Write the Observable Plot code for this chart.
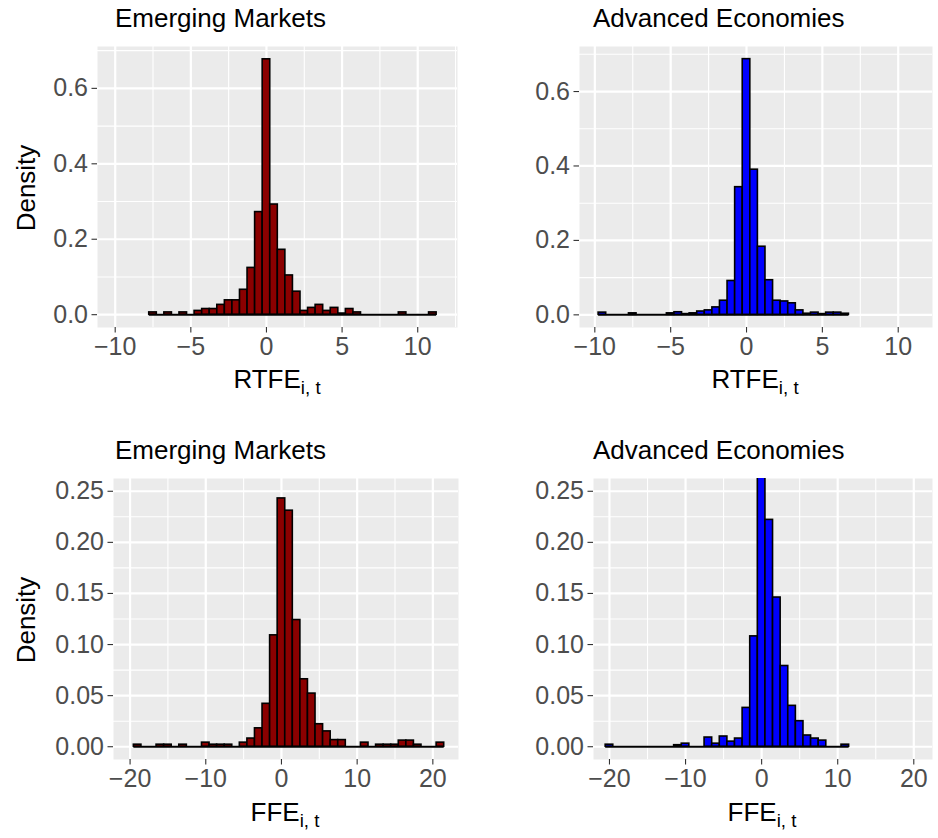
<!DOCTYPE html>
<html><head><meta charset="utf-8">
<script src="https://cdn.jsdelivr.net/npm/d3@7"></script>
<script src="https://cdn.jsdelivr.net/npm/@observablehq/plot@0.6"></script>
<style>
body{margin:0;background:#fff;font-family:"Liberation Sans",Arial,Helvetica,sans-serif}
#root{position:relative;width:938px;height:838px;overflow:hidden;background:#fff}
.box{position:absolute}
.t{position:absolute;white-space:nowrap;color:#000;line-height:1}
.ttl{font-size:26px}
.axt{font-size:26px}
.axt sub{font-size:0.72em;vertical-align:baseline;position:relative;top:0.32em}
</style></head><body><div id="root"></div>
<script>
// ---- data (densities) ----
const emRtfeStart = -7.75, emRtfeWidth = 0.5;
const emRtfeDensity = [0.006,0,0.006,0,0.006,0,0.01,0.015,0.015,0.026,0.038,0.038,0.066,0.124,0.272,0.677,0.292,0.172,0.104,0.061,0.01,0.018,0.026,0.01,0.018,0.003,0.015,0.006,0,0,0,0,0,0.006,0,0,0,0.006];

const aeRtfeStart = -9.75, aeRtfeWidth = 0.5;
const aeRtfeDensity = [0.006,0,0,0,0.004,0,0,0,0,0.004,0.007,0.002,0.004,0.009,0.012,0.02,0.038,0.091,0.343,0.687,0.39,0.183,0.093,0.038,0.036,0.031,0.012,0.003,0.006,0.002,0.006,0.006,0.003];

const emFfeStart = -19.5, emFfeWidth = 1;
const emFfeDensity = [0.002,0,0,0.002,0.002,0,0.002,0,0,0.004,0.002,0.002,0.002,0,0.004,0.008,0.018,0.042,0.109,0.243,0.231,0.124,0.066,0.052,0.022,0.015,0.0065,0.0065,0,0,0.004,0,0.002,0.002,0.002,0.006,0.006,0.002,0,0,0.004];

const aeFfeStart = -20.5, aeFfeWidth = 1;
const aeFfeDensity = [0.002,0,0,0,0,0,0,0,0,0.0015,0.003,0,0,0.009,0.003,0.01,0.005,0.008,0.038,0.108,0.30,0.222,0.146,0.079,0.04,0.025,0.011,0.008,0.006,0,0,0.002];

const rtfeXTicks = [-10,-5,0,5,10];
const rtfeXMinor = [-12.5,-7.5,-2.5,2.5,7.5,12.5];
const rtfeYTicks = [0,0.2,0.4,0.6];
const rtfeYMinor = [0.1,0.3,0.5,0.7];
const ffeXTicks = [-20,-10,0,10,20];
const ffeXMinor = [-25,-15,-5,5,15,25];
const ffeYTicks = [0,0.05,0.10,0.15,0.20,0.25];
const ffeYMinor = [0.025,0.075,0.125,0.175,0.225,0.275];

const titles = ["Emerging Markets","Advanced Economies"];
const darkred = "#8B0000", blue = "#0000FF";

// ---- drawing ----
const FONT = '"Liberation Sans", Arial, Helvetica, sans-serif';
const minusFmt = d => (d < 0 ? "\u2212" + Math.abs(d) : String(d));
const within = (arr, dom) => arr.filter(v => v >= dom[0] && v <= dom[1]);

function histPanel(o) {
  const bins = o.dens.map((d, i) => ({x1: o.start + i * o.width, x2: o.start + (i + 1) * o.width, y: d}));
  const end = o.start + o.dens.length * o.width;
  return Plot.plot({
    width: o.W, height: o.H,
    marginLeft: o.ml, marginRight: o.mr, marginTop: o.mt, marginBottom: o.mb,
    style: {fontFamily: FONT, fontSize: "25px", color: "#4D4D4D", background: "transparent", overflow: "visible"},
    x: {domain: o.xDomain},
    y: {domain: o.yDomain},
    marks: [
      Plot.frame({fill: "#EBEBEB", stroke: "none"}),
      Plot.ruleX(within(o.xMinor, o.xDomain), {stroke: "#fff", strokeWidth: 1.1, strokeOpacity: 1}),
      Plot.ruleY(within(o.yMinor, o.yDomain), {stroke: "#fff", strokeWidth: 1.1, strokeOpacity: 1}),
      Plot.ruleX(o.xTicks, {stroke: "#fff", strokeWidth: 2.2, strokeOpacity: 1}),
      Plot.ruleY(o.yTicks, {stroke: "#fff", strokeWidth: 2.2, strokeOpacity: 1}),
      Plot.ruleY([0], {x1: o.start, x2: end, stroke: "#000", strokeWidth: 2}),
      Plot.rect(bins.filter(b => b.y > 0), {x1: "x1", x2: "x2", y1: 0, y2: "y", fill: o.fill, stroke: "#000", strokeWidth: 1.6, inset: 0, clip: true}),
      Plot.axisX(o.xTicks, {tickSize: 5.5, tickPadding: 4, stroke: "#333333", strokeWidth: 1.1, fill: "#4D4D4D", fontSize: 25, tickFormat: minusFmt, label: null}),
      Plot.axisY(o.yTicks, {tickSize: 5.5, tickPadding: 4, stroke: "#333333", strokeWidth: 1.1, fill: "#4D4D4D", fontSize: 25, tickFormat: o.yFmt, label: null})
    ]
  });
}

const root = document.getElementById("root");
function place(node, left, top) {
  const d = document.createElement("div");
  d.className = "box";
  d.style.left = left + "px"; d.style.top = top + "px";
  d.appendChild(node); root.appendChild(d);
}
function text(html, cls, style) {
  const d = document.createElement("div");
  d.className = "t " + cls;
  d.innerHTML = html;
  Object.assign(d.style, style);
  root.appendChild(d);
}

const fmt1 = d => d.toFixed(1), fmt2 = d => d.toFixed(2);

place(histPanel({start: emRtfeStart, width: emRtfeWidth, dens: emRtfeDensity, fill: darkred,
  W: 469, H: 419, ml: 97, mr: 12, mt: 46, mb: 92,
  xDomain: [-11.17, 12.63], yDomain: [-0.034, 0.711],
  xTicks: rtfeXTicks, xMinor: rtfeXMinor, yTicks: rtfeYTicks, yMinor: rtfeYMinor, yFmt: fmt1}), 0, 0);
place(histPanel({start: aeRtfeStart, width: aeRtfeWidth, dens: aeRtfeDensity, fill: blue,
  W: 469, H: 419, ml: 110, mr: 6, mt: 46, mb: 92,
  xDomain: [-11.01, 12.26], yDomain: [-0.034, 0.721],
  xTicks: rtfeXTicks, xMinor: rtfeXMinor, yTicks: rtfeYTicks, yMinor: rtfeYMinor, yFmt: fmt1}), 469, 0);
place(histPanel({start: emFfeStart, width: emFfeWidth, dens: emFfeDensity, fill: darkred,
  W: 469, H: 419, ml: 113, mr: 11, mt: 59, mb: 79,
  xDomain: [-22.19, 23.39], yDomain: [-0.0125, 0.2625],
  xTicks: ffeXTicks, xMinor: ffeXMinor, yTicks: ffeYTicks, yMinor: ffeYMinor, yFmt: fmt2}), 0, 419);
place(histPanel({start: aeFfeStart, width: aeFfeWidth, dens: aeFfeDensity, fill: blue,
  W: 469, H: 419, ml: 124, mr: 6, mt: 59, mb: 79,
  xDomain: [-22.1, 22.46], yDomain: [-0.0125, 0.2625],
  xTicks: ffeXTicks, xMinor: ffeXMinor, yTicks: ffeYTicks, yMinor: ffeYMinor, yFmt: fmt2}), 469, 419);

// titles
text(titles[0], "ttl", {left: "115px", top: "5px"});
text(titles[1], "ttl", {left: "593px", top: "5px"});
text(titles[0], "ttl", {left: "115px", top: "437px"});
text(titles[1], "ttl", {left: "593px", top: "437px"});
// x axis titles
text("RTFE<sub>i, t</sub>", "axt", {left: "277px", top: "366px", transform: "translateX(-50%)"});
text("RTFE<sub>i, t</sub>", "axt", {left: "755px", top: "366px", transform: "translateX(-50%)"});
text("FFE<sub>i, t</sub>", "axt", {left: "285px", top: "799px", transform: "translateX(-50%)"});
text("FFE<sub>i, t</sub>", "axt", {left: "762px", top: "799px", transform: "translateX(-50%)"});
// y axis titles
text("Density", "axt", {left: "26px", top: "188px", transform: "translate(-50%,-50%) rotate(-90deg)"});
text("Density", "axt", {left: "26px", top: "620px", transform: "translate(-50%,-50%) rotate(-90deg)"});
</script></body></html>
